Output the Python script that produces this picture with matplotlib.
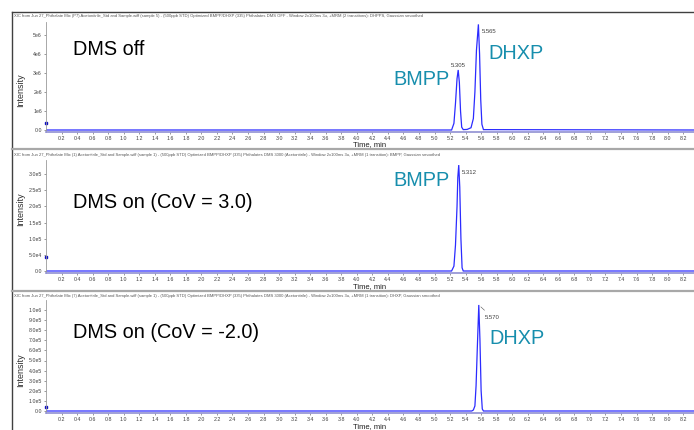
import matplotlib
matplotlib.use("Agg")
import matplotlib.pyplot as plt

plt.rcParams["font.family"] = ["Liberation Sans", "DejaVu Sans"]

W, H = 694, 430

# XIC traces: retention time (min) and intensity (cps)
off_time = [0.0, 5.22, 5.25, 5.27, 5.29, 5.305, 5.32, 5.335, 5.35, 5.37, 5.42,
            5.47, 5.50, 5.52, 5.54, 5.565, 5.58, 5.595, 5.61, 5.63, 8.34]
off_int = [0, 0, 0.35e6, 1.4e6, 2.7e6, 3.16e6, 2.5e6, 1.0e6, 0.15e6, 0.02e6, 0.03e6,
           0.12e6, 0.6e6, 2.0e6, 4.2e6, 5.56e6, 4.0e6, 1.6e6, 0.3e6, 0.02e6, 0]

cov3_time = [0.0, 5.22, 5.25, 5.27, 5.29, 5.30, 5.312, 5.325, 5.34, 5.355, 5.37, 8.34]
cov3_int = [0, 0, 0.15e5, 0.8e5, 2.0e5, 2.9e5, 3.28e5, 2.6e5, 1.0e5, 0.1e5, 0, 0]

covm2_time = [0.0, 5.48, 5.50, 5.52, 5.535, 5.55, 5.57, 5.585, 5.60, 5.615, 5.63, 8.34]
covm2_int = [0, 0, 0.01e6, 0.05e6, 0.25e6, 0.6e6, 1.05e6, 0.7e6, 0.2e6, 0.02e6, 0, 0]

# apex labels (retention time, height)
off_peaks = [(5.305, 3.16e6), (5.565, 5.56e6)]
cov3_peaks = [(5.312, 3.28e5)]
covm2_peaks = [(5.570, 1.05e6)]

off_yticks = [0, 1e6, 2e6, 3e6, 4e6, 5e6]
off_ylabels = ["0.0", "1e6", "2e6", "3e6", "4e6", "5e6"]
cov3_yticks = [0, 0.5e5, 1.0e5, 1.5e5, 2.0e5, 2.5e5, 3.0e5]
cov3_ylabels = ["0.0", "5.0e4", "1.0e5", "1.5e5", "2.0e5", "2.5e5", "3.0e5"]
covm2_yticks = [0, 1e5, 2e5, 3e5, 4e5, 5e5, 6e5, 7e5, 8e5, 9e5, 1e6]
covm2_ylabels = ["0.0", "1.0e5", "2.0e5", "3.0e5", "4.0e5", "5.0e5", "6.0e5",
                 "7.0e5", "8.0e5", "9.0e5", "1.0e6"]

xticks = [round(0.2 * i, 1) for i in range(1, 42)]

headers = [
    "XIC from Jun 27_Phthalate Mix (P7) Acetonitrile_Std and Sample.wiff (sample 5) - (500ppb STD) "
    "Optimized BMPP/DHXP (335) Phthalates DMS OFF - Window 2x100ms 3u, +MRM (2 transitions): DHPPS, Gaussian smoothed",
    "XIC from Jun 27_Phthalate Mix (1) Acetonitrile_Std and Sample.wiff (sample 1) - (500ppb STD) Optimized "
    "BMPP/DHXP (335) Phthalates DMS 3000 (Acetonitrile) - Window 2x100ms 3u, +MRM (1 transition): BMPP, Gaussian smoothed",
    "XIC from Jun 27_Phthalate Mix (7) Acetonitrile_Std and Sample.wiff (sample 1) - (500ppb STD) Optimized "
    "BMPP/DHXP (335) Phthalates DMS 3000 (Acetonitrile) - Window 2x100ms 3u, +MRM (1 transition): DHXP, Gaussian smoothed",
]
titles = ["DMS off", "DMS on (CoV = 3.0)", "DMS on (CoV = -2.0)"]

TEAL = "#178ead"
BLUE = "#2b2bff"


def fx(x):
    return x / W


def fy(y):
    return 1 - y / H


fig = plt.figure(figsize=(W / 100, H / 100), dpi=100)

# pixel layout of each pane: top of plot, row of zero intensity, pixels per cps
panes = [
    dict(t=off_time, i=off_int, peaks=off_peaks, yt=off_yticks, yl=off_ylabels,
         top=22, zero=130, ppu=19 / 1e6, head=16, title_y=55, ylab_y=90, time_y=145),
    dict(t=cov3_time, i=cov3_int, peaks=cov3_peaks, yt=cov3_yticks, yl=cov3_ylabels,
         top=160, zero=271, ppu=32.3 / 1e5, head=155, title_y=208, ylab_y=209, time_y=287),
    dict(t=covm2_time, i=covm2_int, peaks=covm2_peaks, yt=covm2_yticks, yl=covm2_ylabels,
         top=300, zero=411, ppu=101 / 1e6, head=296, title_y=338, ylab_y=370, time_y=427),
]
label_offsets = [[(0, 2, "center"), (3.5, -9, "left")], [(3.5, -9, "left")], [(6, -14, "left")]]
marker_h = [0.37e6, 0.44e5, 0.04e6]

left, right = 46, 694
for k, p in enumerate(panes):
    bottom = p["zero"] + 2
    ax = fig.add_axes([fx(left), fy(bottom), fx(right - left), (bottom - p["top"]) / H])
    ax.set_xlim(0, (right - left) / 77.7)
    ax.set_ylim(-2 / p["ppu"], (p["zero"] - p["top"]) / p["ppu"])
    ax.plot(p["t"], p["i"], color=BLUE, lw=0.9, solid_joinstyle="miter")
    ax.plot([0], [marker_h[k]], "s", color="#1010c0", ms=2.0, clip_on=False)
    for spine in ("top", "right"):
        ax.spines[spine].set_visible(False)
    ax.spines["left"].set_color("#9a9a9a")
    ax.spines["left"].set_linewidth(0.6)
    ax.spines["bottom"].set_color("#9494d4")
    ax.spines["bottom"].set_linewidth(1.25)
    ax.set_xticks(xticks)
    ax.set_xticklabels([f"{v:.1f}" for v in xticks])
    ax.set_yticks(p["yt"])
    ax.set_yticklabels(p["yl"])
    ax.tick_params(length=1.5, width=0.5, pad=1.5, labelsize=3.8,
                   color="#707070", labelcolor="#404040")
    for (rt, h), (dx, dy, ha) in zip(p["peaks"], label_offsets[k]):
        arrow = dict(arrowstyle="-", color="#505050", lw=0.4) if k == 2 else None
        ax.annotate(f"{rt:.3f}", xy=(rt, h), xytext=(dx, dy), textcoords="offset pixels",
                    ha=ha, va="bottom" if ha == "center" else "baseline",
                    fontsize=4.3, color="#404040", arrowprops=arrow)

    fig.text(fx(14), fy(p["head"]), headers[k], fontsize=2.95, color="#555555", va="center")
    fig.text(fx(73), fy(p["title_y"]), titles[k], fontsize=14.3, color="black", va="baseline")
    fig.text(fx(20.5), fy(p["ylab_y"]), "Intensity", fontsize=6.5, rotation=90,
             ha="center", va="center", color="#303030")
    fig.text(fx(353), fy(p["time_y"]), "Time, min", fontsize=5.5, va="center", color="#202020")

# compound names
fig.text(fx(393), fy(85), "BMPP", fontsize=14.3, color=TEAL, va="baseline")
fig.text(fx(488), fy(59), "DHXP", fontsize=14.3, color=TEAL, va="baseline")
fig.text(fx(393), fy(186), "BMPP", fontsize=14.3, color=TEAL, va="baseline")
fig.text(fx(489), fy(344), "DHXP", fontsize=14.3, color=TEAL, va="baseline")

# window frame and pane separators
fig.add_artist(plt.Line2D([fx(12), fx(694)], [fy(12), fy(12)], color="#404040", lw=1.0))
fig.add_artist(plt.Line2D([fx(12), fx(12)], [fy(12), fy(430)], color="#404040", lw=1.0))
for ys in (149, 291):
    fig.add_artist(plt.Line2D([fx(12), fx(694)], [fy(ys), fy(ys)], color="#a8a8a8", lw=1.6))

fig.savefig("out.png", dpi=100)
